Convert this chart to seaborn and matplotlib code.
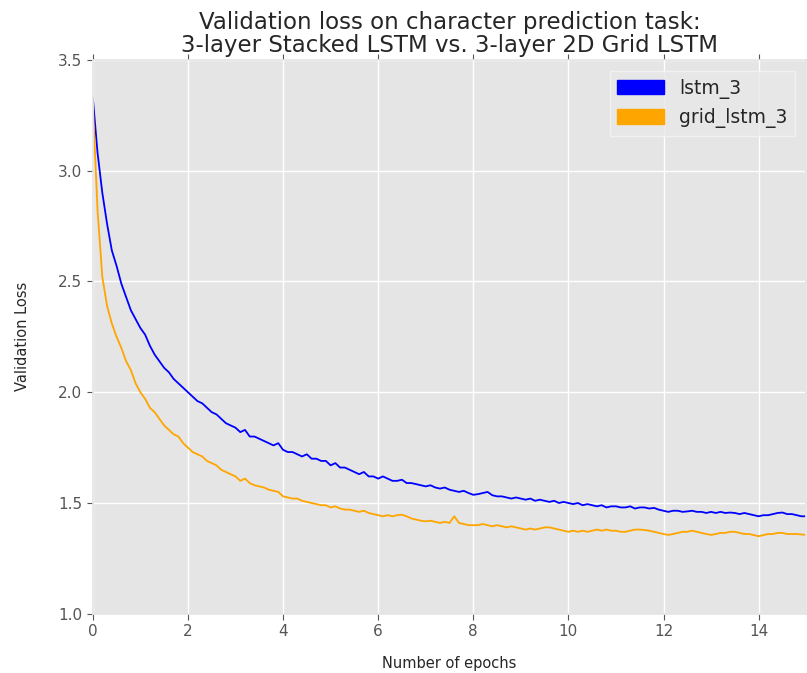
import numpy as np
import pandas as pd
import matplotlib
matplotlib.use("Agg")
import matplotlib.pyplot as plt
from matplotlib.patches import Patch
import seaborn as sns

# epochs sampled every 0.1 from 0 to 15
epochs = np.round(np.arange(0, 15.01, 0.1), 1)

lstm_3 = [
    3.33, 3.08, 2.90, 2.76, 2.64, 2.57, 2.49, 2.43, 2.37, 2.33,
    2.29, 2.26, 2.21, 2.17, 2.14, 2.11, 2.09, 2.06, 2.04, 2.02,
    2.00, 1.98, 1.96, 1.95, 1.93, 1.91, 1.90, 1.88, 1.86, 1.85,
    1.84, 1.82, 1.83, 1.80, 1.80, 1.79, 1.78, 1.77, 1.76, 1.77,
    1.74, 1.73, 1.73, 1.72, 1.71, 1.72, 1.70, 1.70, 1.69, 1.69,
    1.67, 1.68, 1.66, 1.66, 1.65, 1.64, 1.63, 1.64, 1.62, 1.62,
    1.61, 1.62, 1.61, 1.60, 1.60, 1.605, 1.59, 1.59, 1.585, 1.58,
    1.575, 1.58, 1.57, 1.565, 1.57, 1.56, 1.555, 1.55, 1.555, 1.545,
    1.537, 1.54, 1.545, 1.55, 1.535, 1.53, 1.53, 1.525, 1.52, 1.525,
    1.52, 1.515, 1.52, 1.51, 1.515, 1.51, 1.505, 1.51, 1.50, 1.505,
    1.50, 1.495, 1.50, 1.49, 1.495, 1.49, 1.485, 1.49, 1.48, 1.485,
    1.485, 1.48, 1.48, 1.485, 1.475, 1.48, 1.48, 1.475, 1.478, 1.47,
    1.465, 1.46, 1.465, 1.465, 1.46, 1.462, 1.465, 1.46, 1.46, 1.455,
    1.46, 1.455, 1.46, 1.455, 1.457, 1.455, 1.45, 1.455, 1.45, 1.445,
    1.44, 1.445, 1.445, 1.45, 1.455, 1.457, 1.45, 1.45, 1.445, 1.44,
    1.44,
]

grid_lstm_3 = [
    3.30, 2.82, 2.52, 2.39, 2.31, 2.25, 2.20, 2.14, 2.10, 2.04,
    2.00, 1.97, 1.93, 1.91, 1.88, 1.85, 1.83, 1.81, 1.80, 1.77,
    1.75, 1.73, 1.72, 1.71, 1.69, 1.68, 1.67, 1.65, 1.64, 1.63,
    1.62, 1.60, 1.61, 1.59, 1.58, 1.575, 1.57, 1.56, 1.555, 1.55,
    1.53, 1.525, 1.52, 1.52, 1.51, 1.505, 1.50, 1.495, 1.49, 1.49,
    1.48, 1.485, 1.475, 1.47, 1.47, 1.465, 1.46, 1.465, 1.455, 1.45,
    1.445, 1.44, 1.445, 1.44, 1.445, 1.447, 1.44, 1.43, 1.425, 1.42,
    1.417, 1.42, 1.415, 1.41, 1.415, 1.41, 1.44, 1.41, 1.405, 1.40,
    1.40, 1.40, 1.405, 1.40, 1.395, 1.40, 1.395, 1.39, 1.395, 1.39,
    1.385, 1.38, 1.385, 1.38, 1.385, 1.39, 1.39, 1.385, 1.38, 1.375,
    1.37, 1.375, 1.37, 1.375, 1.37, 1.375, 1.38, 1.375, 1.38, 1.375,
    1.375, 1.37, 1.37, 1.375, 1.38, 1.38, 1.378, 1.375, 1.37, 1.365,
    1.36, 1.356, 1.36, 1.365, 1.37, 1.37, 1.375, 1.37, 1.365, 1.36,
    1.356, 1.36, 1.365, 1.365, 1.37, 1.37, 1.365, 1.36, 1.36, 1.355,
    1.35, 1.355, 1.36, 1.36, 1.365, 1.365, 1.36, 1.36, 1.36, 1.358,
    1.356,
]

models = ["lstm_3", "grid_lstm_3"]
colors = {"lstm_3": "blue", "grid_lstm_3": "orange"}

df = pd.concat([
    pd.DataFrame({"epoch": epochs, "loss": lstm_3, "model": "lstm_3"}),
    pd.DataFrame({"epoch": epochs, "loss": grid_lstm_3, "model": "grid_lstm_3"}),
])

sns.set_theme(style="darkgrid", rc={
    "axes.facecolor": "#E5E5E5",
    "axes.edgecolor": "#E5E5E5",
    "grid.color": "white",
    "grid.linewidth": 1.0,
    "xtick.color": "#555555",
    "ytick.color": "#555555",
    "xtick.bottom": True, "xtick.top": True,
    "ytick.left": True, "ytick.right": True,
    "xtick.direction": "out", "ytick.direction": "out",
    "xtick.major.size": 4, "ytick.major.size": 4,
})
plt.rcParams["font.family"] = ["DejaVu Sans"]

fig = plt.figure(figsize=(8.07, 6.73), dpi=100)
ax = fig.add_axes([0.115, 0.088, 0.884, 0.823])

sns.lineplot(data=df, x="epoch", y="loss", hue="model", palette=colors,
             linewidth=1.3, ax=ax, legend=False)

ax.set_xlim(0, 15)
ax.set_ylim(1.0, 3.5)
ax.set_xticks([0, 2, 4, 6, 8, 10, 12, 14])
ax.set_yticks([1.0, 1.5, 2.0, 2.5, 3.0, 3.5])
ax.tick_params(labelsize=11, width=0.8)
ax.set_xlabel("Number of epochs", fontsize=10.5, labelpad=12)
ax.set_ylabel("Validation Loss", fontsize=10.5, labelpad=20)
ax.set_title("Validation loss on character prediction task:\n"
             "3-layer Stacked LSTM vs. 3-layer 2D Grid LSTM",
             fontsize=16.5, linespacing=1.0, pad=6)

handles = [Patch(facecolor=colors[m], edgecolor=colors[m]) for m in models]
leg = ax.legend(handles, models, loc="upper right", fontsize=13.5,
                handlelength=2.5, handleheight=0.8, borderaxespad=0.6,
                frameon=True, fancybox=False)
leg.get_frame().set_facecolor("#E8E8E8")
leg.get_frame().set_edgecolor("#F4F4F4")

fig.savefig("out.png", dpi=100)
